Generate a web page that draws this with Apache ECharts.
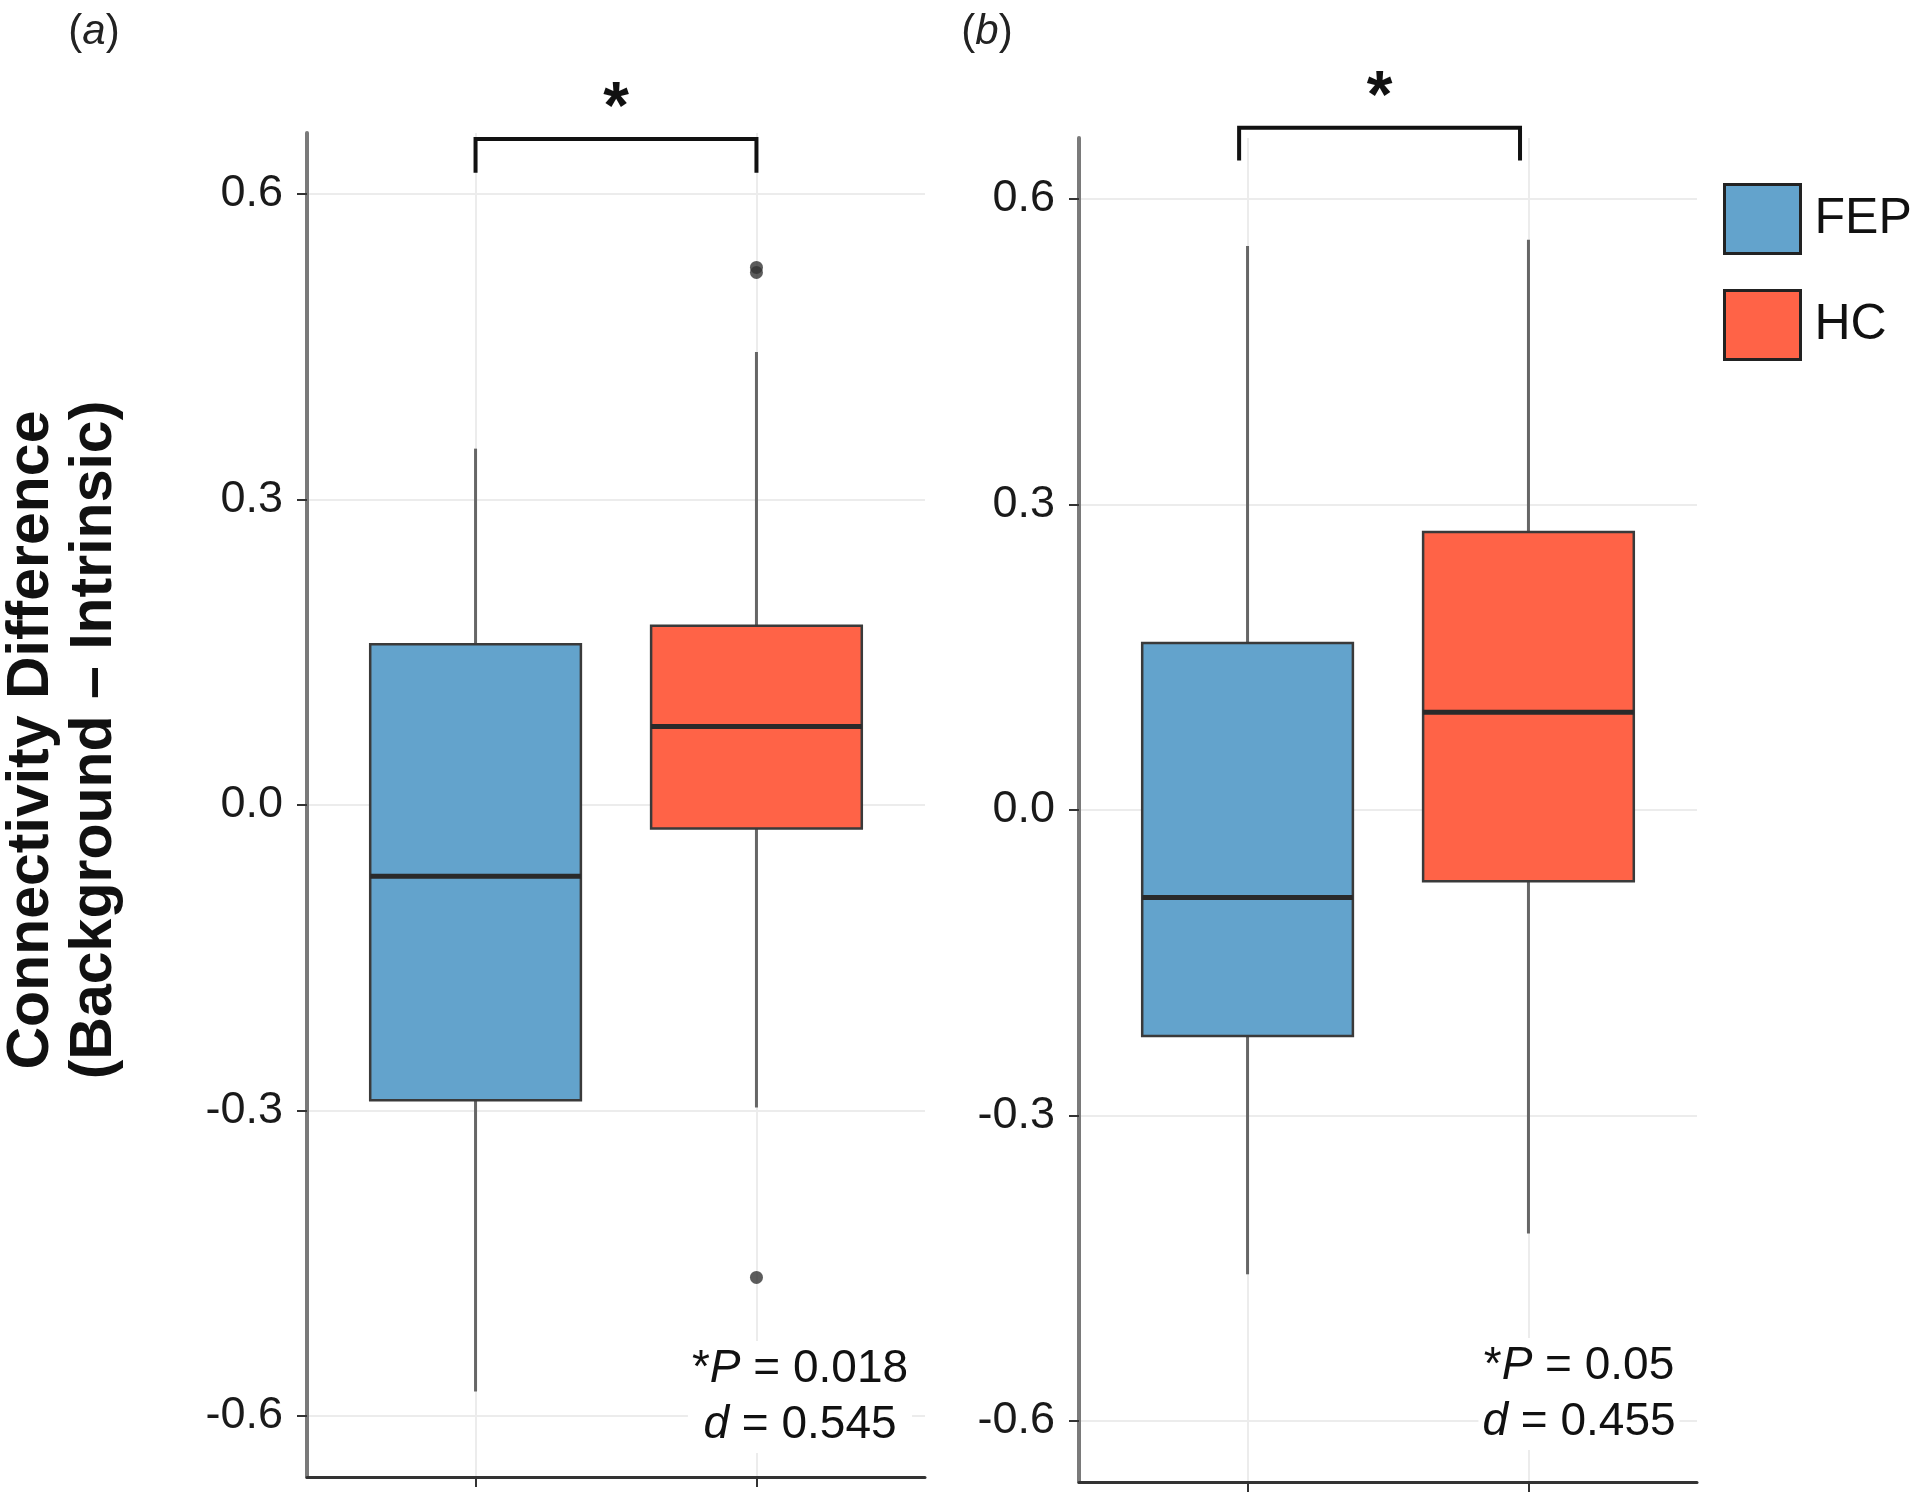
<!DOCTYPE html>
<html><head><meta charset="utf-8">
<script src="https://cdn.jsdelivr.net/npm/echarts@6/dist/echarts.min.js"></script>
<style>html,body{margin:0;padding:0;background:#fff}#c{width:1920px;height:1503px}</style>
</head><body><div id="c"></div>
<script>
// ---- data ----
const groups = ['FEP', 'HC'];
const groupPos = [1, 2];
// [low whisker, Q1, median, Q3, high whisker]
const panelA_FEP = [-0.576, -0.290, -0.070, 0.158, 0.350];
const panelA_HC  = [-0.297, -0.023, 0.077, 0.176, 0.445];
const panelB_FEP = [-0.456, -0.222, -0.086, 0.164, 0.554];
const panelB_HC  = [-0.416, -0.070, 0.096, 0.273, 0.560];
const panelA_HC_outliers = [0.523, 0.528, -0.464];
const yTicks = [-0.6, -0.3, 0, 0.3, 0.6];
// bracket: [x1, x2, top, legEnd, starY]
const bracketA = [1, 2, 0.654, 0.621, 0.693];
const bracketB = [0.97, 1.97, 0.670, 0.638, 0.708];
const statsA = ['0.018', '0.545'];
const statsB = ['0.05', '0.455'];
const panelLabels = ['a', 'b'];

const FONT = '"Liberation Sans", Arial, Helvetica, sans-serif';
const COL_FEP = '#63A3CC';
const COL_HC = '#FF6347';

function renderBox(params, api) {
  const x = api.value(0);
  const lo = api.value(1), q1 = api.value(2), med = api.value(3), q3 = api.value(4), hi = api.value(5);
  const w = api.size([0.75, 0])[0];
  const pHi = api.coord([x, hi]), pQ3 = api.coord([x, q3]), pMed = api.coord([x, med]);
  const pQ1 = api.coord([x, q1]), pLo = api.coord([x, lo]);
  const cx = pHi[0];
  const color = api.visual('color');
  return {type: 'group', children: [
    {type: 'line', shape: {x1: cx, y1: pHi[1], x2: cx, y2: pQ3[1]}, style: {stroke: '#666', lineWidth: 3}},
    {type: 'line', shape: {x1: cx, y1: pQ1[1], x2: cx, y2: pLo[1]}, style: {stroke: '#666', lineWidth: 3}},
    {type: 'rect', shape: {x: cx - w / 2, y: pQ3[1], width: w, height: pQ1[1] - pQ3[1]},
      style: {fill: color, stroke: '#3a3a3a', lineWidth: 2.5}},
    {type: 'line', shape: {x1: cx - w / 2, y1: pMed[1], x2: cx + w / 2, y2: pMed[1]}, style: {stroke: '#2a2a2a', lineWidth: 5}}
  ]};
}

function renderBracket(params, api) {
  const x1 = api.value(0), x2 = api.value(1), top = api.value(2), leg = api.value(3), sy = api.value(4);
  const a = api.coord([x1, leg]), b = api.coord([x1, top]), c = api.coord([x2, top]), d = api.coord([x2, leg]);
  const s = api.coord([(x1 + x2) / 2, sy]);
  return {type: 'group', children: [
    {type: 'polyline', shape: {points: [a, b, c, d]}, style: {stroke: '#111', lineWidth: 4, fill: null}},
    {type: 'text', x: s[0], y: s[1] + 10, style: {text: '*', font: 'bold 66px ' + FONT, fill: '#111', align: 'center', verticalAlign: 'middle'}}
  ]};
}

function boxSeries(name, gi, pos, vals, color) {
  return {type: 'custom', name: name, xAxisIndex: gi, yAxisIndex: gi, clip: false,
    itemStyle: {color: color}, renderItem: renderBox,
    encode: {x: 0, y: [1, 2, 3, 4, 5]}, data: [[pos].concat(vals)], z: 3};
}

function makeX(gi) {
  return {gridIndex: gi, type: 'value', min: 0.4, max: 2.6,
    axisLine: {show: true, onZero: false, lineStyle: {color: '#333', width: 3}},
    axisTick: {show: true, length: 10, customValues: groupPos, lineStyle: {color: '#333', width: 2}},
    axisLabel: {show: false, customValues: groupPos},
    splitLine: {show: true, lineStyle: {color: '#ececec', width: 2}}};
}
function makeY(gi) {
  return {gridIndex: gi, type: 'value', min: -0.66, max: 0.66,
    axisLine: {show: true, onZero: false, lineStyle: {color: '#7a7a7a', width: 4}},
    axisTick: {show: true, length: 10, customValues: yTicks, lineStyle: {color: '#333', width: 2}},
    axisLabel: {customValues: yTicks, formatter: v => Number(v).toFixed(1), fontSize: 45, color: '#1a1a1a', margin: 24, fontFamily: FONT},
    splitLine: {show: true, lineStyle: {color: '#ececec', width: 2}}};
}

const richStat = {
  i: {fontStyle: 'italic', fontSize: 46, fontFamily: FONT, fill: '#111', lineHeight: 56},
  n: {fontSize: 46, fontFamily: FONT, fill: '#111', lineHeight: 56}
};
function statText(s) {
  return '{n|*}{i|P}{n| = ' + s[0] + '}\n{i|d}{n| = ' + s[1] + '}';
}

const chart = echarts.init(document.getElementById('c'), null, {renderer: 'canvas'});
chart.setOption({
  backgroundColor: '#ffffff',
  animation: false,
  grid: [
    {left: 307, top: 133, width: 618, height: 1344},
    {left: 1079, top: 138, width: 618, height: 1344}
  ],
  xAxis: [makeX(0), makeX(1)],
  yAxis: [makeY(0), makeY(1)],
  legend: {
    orient: 'vertical', left: 1723, top: 183, padding: 0,
    itemWidth: 76, itemHeight: 69, itemGap: 34, selectedMode: false,
    textStyle: {fontSize: 50, color: '#111', fontFamily: FONT, padding: [0, 0, 0, 9]},
    data: [
      {name: groups[0], icon: 'rect', itemStyle: {color: COL_FEP, borderColor: '#222', borderWidth: 3}},
      {name: groups[1], icon: 'rect', itemStyle: {color: COL_HC, borderColor: '#222', borderWidth: 3}}
    ]
  },
  series: [
    boxSeries(groups[0], 0, groupPos[0], panelA_FEP, COL_FEP),
    boxSeries(groups[1], 0, groupPos[1], panelA_HC, COL_HC),
    boxSeries(groups[0], 1, groupPos[0], panelB_FEP, COL_FEP),
    boxSeries(groups[1], 1, groupPos[1], panelB_HC, COL_HC),
    {type: 'scatter', name: 'outliers', xAxisIndex: 0, yAxisIndex: 0, symbol: 'circle', symbolSize: 13,
      itemStyle: {color: '#333'}, z: 4, data: panelA_HC_outliers.map(v => [groupPos[1], v])},
    {type: 'custom', name: 'bracketA', xAxisIndex: 0, yAxisIndex: 0, clip: false, renderItem: renderBracket,
      encode: {x: [0, 1], y: [2, 3, 4]}, data: [bracketA], z: 5},
    {type: 'custom', name: 'bracketB', xAxisIndex: 1, yAxisIndex: 1, clip: false, renderItem: renderBracket,
      encode: {x: [0, 1], y: [2, 3, 4]}, data: [bracketB], z: 5}
  ],
  graphic: [
    {type: 'text', x: 63, y: 740, rotation: Math.PI / 2,
      style: {text: 'Connectivity Difference\n(Background \u2013 Intrinsic)', font: 'bold 59px ' + FONT,
        fill: '#111', align: 'center', verticalAlign: 'middle', lineHeight: 63}},
    {type: 'text', x: 94, y: 32, style: {text: '({i|' + panelLabels[0] + '})', font: '42px ' + FONT, fill: '#222',
      align: 'center', verticalAlign: 'middle', rich: {i: {fontStyle: 'italic', fontSize: 42, fontFamily: FONT}}}},
    {type: 'text', x: 987, y: 32, style: {text: '({i|' + panelLabels[1] + '})', font: '42px ' + FONT, fill: '#222',
      align: 'center', verticalAlign: 'middle', rich: {i: {fontStyle: 'italic', fontSize: 42, fontFamily: FONT}}}},
    {type: 'text', x: 800, y: 1397, z: 10, style: {text: statText(statsA), backgroundColor: '#ffffff', padding: [0, 4, 0, 4],
      font: '46px ' + FONT, fill: '#111', align: 'center', verticalAlign: 'middle', lineHeight: 56, rich: richStat}},
    {type: 'text', x: 1579, y: 1394, z: 10, style: {text: statText(statsB), backgroundColor: '#ffffff', padding: [0, 4, 0, 4],
      font: '46px ' + FONT, fill: '#111', align: 'center', verticalAlign: 'middle', lineHeight: 56, rich: richStat}}
  ]
});
</script></body></html>
